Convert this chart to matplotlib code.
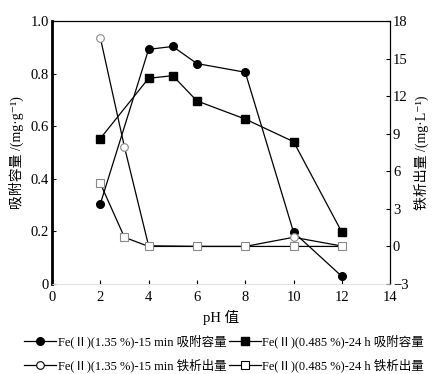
import matplotlib
matplotlib.use("Agg")
import matplotlib.pyplot as plt
from matplotlib.lines import Line2D

plt.rcParams['font.family'] = ['Liberation Serif', 'Noto Sans CJK SC', 'DejaVu Sans']
plt.rcParams['axes.unicode_minus'] = False

# Data
ph_ads = [2, 4, 5, 6, 8, 10, 12]
ads_135 = [0.304, 0.892, 0.903, 0.838, 0.805, 0.197, 0.029]
ads_0485 = [0.553, 0.782, 0.792, 0.696, 0.627, 0.541, 0.197]
ph_rel = [2, 3, 4, 6, 8, 10, 12]
rel_135 = [16.67, 7.94, 0.05, 0.0, 0.0, 0.73, 0.03]
rel_0485 = [5.04, 0.73, 0.0, 0.0, 0.0, 0.0, 0.0]

labels = ["Fe(Ⅱ)(1.35 %)-15 min 吸附容量",
          "Fe(Ⅱ)(0.485 %)-24 h 吸附容量",
          "Fe(Ⅱ)(1.35 %)-15 min 铁析出量",
          "Fe(Ⅱ)(0.485 %)-24 h 铁析出量"]

fig = plt.figure(figsize=(4.48, 3.74), dpi=100)
ax = fig.add_axes([0.116, 0.2406, 0.755, 0.7034])
ax2 = ax.twinx()

lw = 0.9
ms = 5.5
ax.plot(ph_ads, ads_135, color='black', lw=lw, marker='o', ms=ms, mfc='black', mec='black', zorder=3)
ax.plot(ph_ads, ads_0485, color='black', lw=lw, marker='s', ms=ms, mfc='black', mec='black', zorder=3)
ax2.plot(ph_rel, rel_135, color='black', lw=lw, marker='o', ms=ms, mfc='white', mec='#888888', mew=0.8, zorder=3)
ax2.plot(ph_rel, rel_0485, color='black', lw=lw, marker='s', ms=ms, mfc='white', mec='#888888', mew=0.8, zorder=3)

ax.set_xlim(0, 14)
ax.set_ylim(0, 1.0)
ax2.set_ylim(-3, 18)
ax.set_xticks(range(0, 15, 2))
ax.set_yticks([0, 0.2, 0.4, 0.6, 0.8, 1.0])
ax.set_yticklabels(['0', '0.2', '0.4', '0.6', '0.8', '1.0'])
ax2.set_yticks(range(-3, 19, 3))
ax2.set_yticklabels(['−3' if v == -3 else str(v) for v in range(-3, 19, 3)])

ax.tick_params(axis='both', direction='in', length=3, width=0.8, labelsize=10.5, pad=2)
ax.tick_params(axis='x', pad=5)
ax2.tick_params(axis='y', direction='in', length=3, width=0.8, labelsize=10.5, pad=2)

for a in (ax, ax2):
    a.spines['bottom'].set_color('#dddddd')
    a.spines['bottom'].set_linewidth(0.5)
    a.spines['top'].set_linewidth(0.8)
    a.spines['right'].set_linewidth(0.8)
ax.spines['left'].set_linewidth(2.0)

ax.set_ylabel("吸附容量 /(mg·g⁻¹)", fontsize=10, labelpad=5)
ax2.set_ylabel("铁析出量 /(mg·L⁻¹)", fontsize=10, labelpad=4)
ax.set_xlabel("pH 值", fontsize=10.5, labelpad=4)

handles = [
    Line2D([], [], color='black', lw=lw, marker='o', ms=ms, mfc='black', mec='black'),
    Line2D([], [], color='black', lw=lw, marker='o', ms=ms, mfc='white', mec='black', mew=0.8),
    Line2D([], [], color='black', lw=lw, marker='s', ms=ms, mfc='black', mec='black'),
    Line2D([], [], color='black', lw=lw, marker='s', ms=ms, mfc='white', mec='black', mew=0.8),
]
leg_labels = [labels[0], labels[2], labels[1], labels[3]]
fig.legend(handles, leg_labels, ncol=2, loc='lower center', bbox_to_anchor=(0.5, -0.025),
           frameon=False, fontsize=9, handlelength=2.6, handletextpad=0.1,
           columnspacing=0.2, labelspacing=0.8)

fig.savefig("out.png", dpi=100)
